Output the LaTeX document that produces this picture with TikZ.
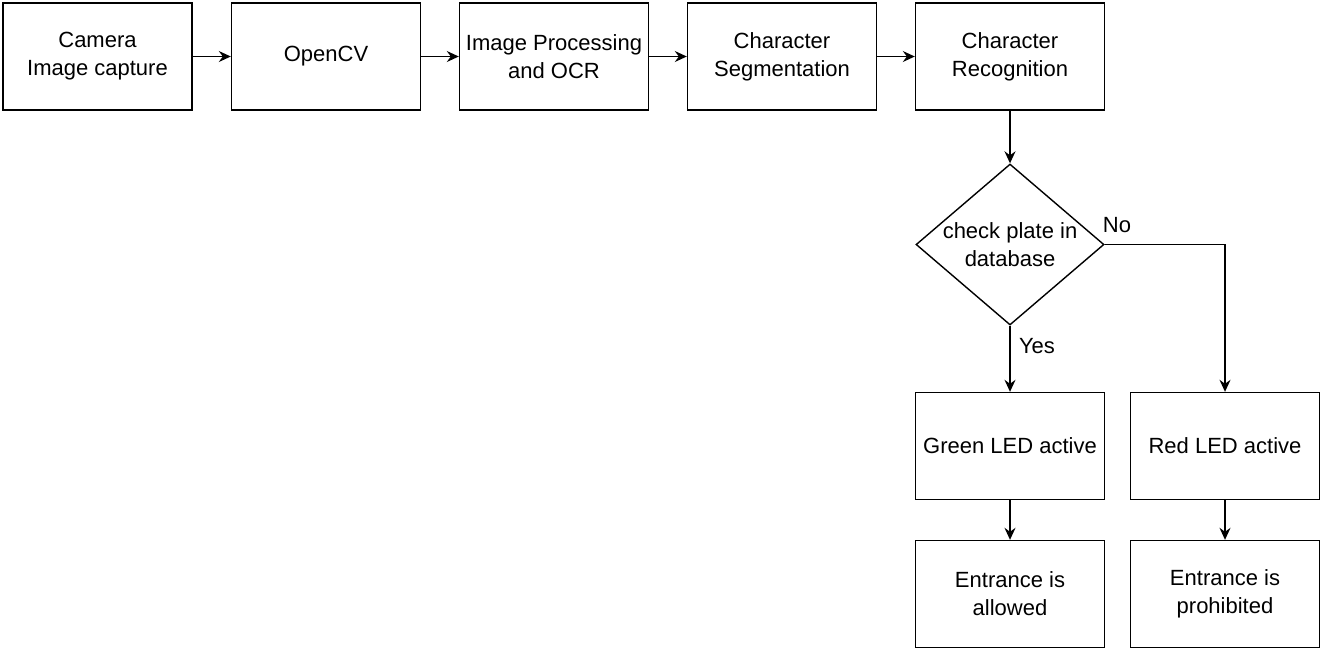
\documentclass[tikz,border=0pt]{standalone}
\usepackage{fontspec}
\setmainfont{Liberation Sans}
\usetikzlibrary{shapes.geometric,arrows.meta}
\begin{document}
\begin{tikzpicture}[x=0.5pt,y=-0.5pt,
  every node/.style={font=\fontsize{11}{14}\selectfont, align=center},
  box/.style={draw, line width=0.7pt, fill=white, inner sep=0pt,
    minimum width=94.5pt, minimum height=53.5pt},
  decision/.style={draw, diamond, line width=0.7pt, fill=white, inner sep=0pt,
    minimum width=94pt, minimum height=80.5pt},
  conn/.style={draw, line width=0.7pt, -{Stealth[length=6pt,width=5.5pt,inset=2pt]}},
  lbl/.style={inner sep=0pt}]
\useasboundingbox (0,0) rectangle (1320,650);
\node[box] (b1) at (97.5,56.5) {Camera\\Image capture};
\node[box] (b2) at (326,56.5) {OpenCV};
\node[box] (b3) at (554,56.5) {Image Processing\\and OCR};
\node[box] (b4) at (782,56.5) {Character\\Segmentation};
\node[box] (b5) at (1010,56.5) {Character\\Recognition};
\node[decision, label={[align=center]center:check plate in\\database}] (d) at (1010,244.5) {};
\node[box] (g) at (1010,446) {Green LED active};
\node[box] (r) at (1225,446) {Red LED active};
\node[box] (ga) at (1010,594) {Entrance is\\allowed};
\node[box] (rp) at (1225,594) {Entrance is\\prohibited};
\draw[conn] (b1) -- (b2);
\draw[conn] (b2) -- (b3);
\draw[conn] (b3) -- (b4);
\draw[conn] (b4) -- (b5);
\draw[conn] (b5) -- (d);
\draw[conn] (d.south) -- (g.north);
\draw[conn] (d.east) -| (r.north);
\node[lbl] (yes) at (1037,346) {Yes};
\node[lbl] (no) at (1117,225) {No};
\draw[conn] (g) -- (ga);
\draw[conn] (r) -- (rp);
\end{tikzpicture}
\end{document}
